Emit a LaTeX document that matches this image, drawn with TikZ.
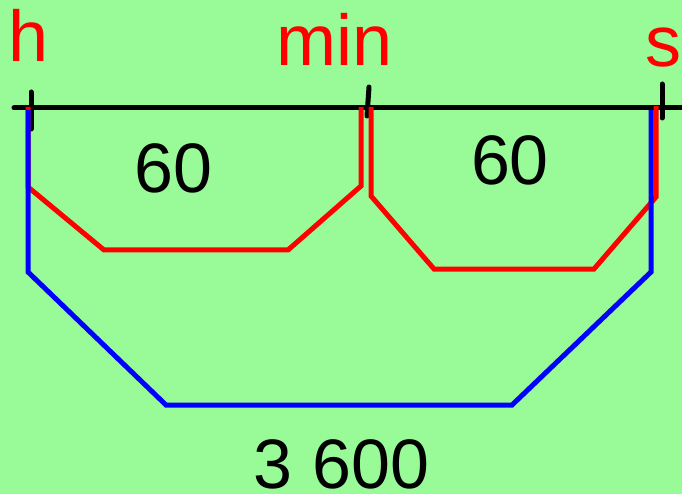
\documentclass[tikz,border=0pt]{standalone}
\usepackage{fontspec}
\setmainfont{Liberation Sans}
\definecolor{bg}{HTML}{98FB98}
\definecolor{myred}{HTML}{FF0000}
\definecolor{myblue}{HTML}{0000FF}
\begin{document}
\begin{tikzpicture}[x=1pt,y=-1pt,
  lbl/.style={inner sep=0pt,anchor=base,text=myred,font=\fontsize{72}{72}\selectfont},
  num/.style={inner sep=0pt,anchor=base,text=black,font=\fontsize{70}{70}\selectfont},
  axis/.style={draw=black,line width=5pt,line cap=round},
  redpath/.style={draw=myred,line width=5pt,line join=miter},
  bluepath/.style={draw=myblue,line width=5pt,line join=miter}]
\fill[bg] (0,0) rectangle (682,494);
\useasboundingbox (0,0) rectangle (682,494);
% axis
\coordinate (a0) at (14,108);
\coordinate (a1) at (684,108);
\draw[axis] (a0) -- (a1);
\draw[axis] (31,92) -- (31,129);
\draw[axis] (369,87) -- (367,116);
\draw[axis] (662,84) -- (662,118);
% red paths
\draw[redpath] (28,107) -- (28,187) -- (104,250) -- (288,250) -- (361,186) -- (361,107);
\draw[redpath] (371,107) -- (371,196) -- (434,269) -- (594,269) -- (656,197) -- (656,106);
% blue path
\draw[bluepath] (28,110) -- (28,272) -- (166,405) -- (512,405) -- (651,272) -- (651,110);
% labels
\node[lbl] (h) at (29,62) {h};
\node[lbl] (min) at (334.5,66) {min};
\node[lbl] (s) at (663,67) {s};
\node[num] (n1) at (173.5,193) {60};
\node[num] (n2) at (510,185) {60};
\node[num] (n3) at (341.5,488) {3 600};
\end{tikzpicture}
\end{document}
